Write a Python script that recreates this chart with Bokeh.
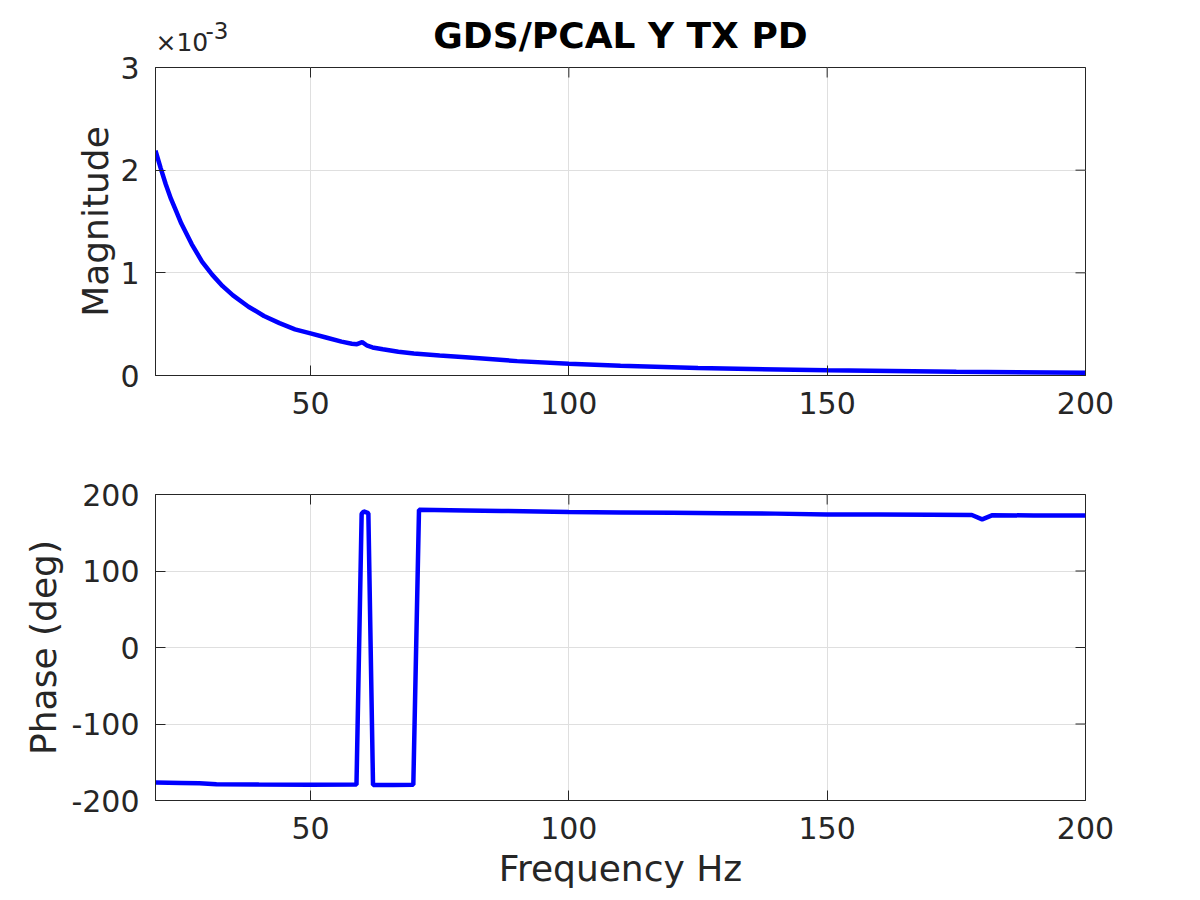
import math
from bokeh.plotting import figure
from bokeh.models import FixedTicker, CustomJSTickFormatter, Range1d, Title
from bokeh.layouts import column
from bokeh.embed import file_html
from bokeh.resources import INLINE

# ---- data ----
title_text = "GDS/PCAL Y TX PD"
x_label = "Frequency Hz"
mag_label = "Magnitude"
phase_label = "Phase (deg)"

mag_freq = [20, 21, 22, 23, 24, 25, 27, 29, 31, 33, 35, 38, 41, 44, 47, 50, 53, 56,
            58, 59, 60, 61, 62, 64, 67, 70, 75, 80, 90, 100, 110, 125, 150, 175, 200]
mag_val = [2.19e-3, 2.02e-3, 1.86e-3, 1.72e-3, 1.60e-3, 1.48e-3, 1.28e-3, 1.11e-3,
           0.98e-3, 0.87e-3, 0.78e-3, 0.67e-3, 0.58e-3, 0.51e-3, 0.45e-3, 0.41e-3,
           0.37e-3, 0.33e-3, 0.31e-3, 0.305e-3, 0.325e-3, 0.29e-3, 0.273e-3, 0.255e-3,
           0.232e-3, 0.215e-3, 0.195e-3, 0.177e-3, 0.14e-3, 0.114e-3, 0.094e-3,
           0.072e-3, 0.052e-3, 0.037e-3, 0.026e-3]

phase_freq = [20, 25, 28.5, 31.8, 40, 50, 58.9, 59.9, 60.3, 61.2, 62.1, 66, 69.9, 71,
              80, 87, 100, 110, 120, 130, 140, 150, 160, 170, 178, 180, 182, 190, 200]
phase_val = [-176.5, -177.0, -177.4, -178.7, -179.2, -179.5, -179.2, 174.8, 177.8, 175.6,
             -179.8, -179.6, -179.5, 180.0, 179.2, 178.5, 177.0, 176.5, 176.0, 175.5,
             175.0, 173.8, 173.8, 173.5, 173.2, 167.5, 173.0, 172.5, 172.5]

x_ticks = [50, 100, 150, 200]
mag_ticks = [0, 0.001, 0.002, 0.003]
phase_ticks = [-200, -100, 0, 100, 200]
x_lim = (20, 200)
mag_lim = (0, 0.003)
phase_lim = (-200, 200)
exp_base = "\u00d710"
exp_power = "-3"

FONT = "DejaVu Sans"
TXT = "#262626"
LINE = "#0000ff"


def make_fig(frame_h, top, bottom, ylim, yticks):
    p = figure(frame_width=930, frame_height=frame_h, x_range=Range1d(*x_lim),
               y_range=Range1d(*ylim), output_backend="svg", toolbar_location=None,
               min_border_left=155, min_border_right=95,
               min_border_top=top, min_border_bottom=bottom,
               background_fill_color="white", border_fill_color="white")
    p.outline_line_color = TXT
    p.outline_line_width = 1
    p.outline_line_alpha = 1
    for g in (p.xgrid, p.ygrid):
        g.grid_line_color = "#dfdfdf"
        g.grid_line_width = 1
    bx = p.below[0]
    ly = p.left[0]
    bx.ticker = FixedTicker(ticks=x_ticks)
    ly.ticker = FixedTicker(ticks=yticks)
    for ax in (bx, ly):
        ax.major_tick_in = 10
        ax.major_tick_out = 0
        ax.minor_tick_in = 0
        ax.minor_tick_out = 0
        ax.axis_line_color = TXT
        ax.major_tick_line_color = TXT
        ax.major_label_text_font = FONT
        ax.major_label_text_font_size = "30px"
        ax.major_label_text_color = TXT
        ax.major_label_standoff = 16
        ax.axis_label_text_font = FONT
        ax.axis_label_text_font_size = "36px"
        ax.axis_label_text_color = TXT
        ax.axis_label_text_font_style = "normal"
    # mirrored inward tick marks on the top and right edges (box on)
    p.scatter(x_ticks, [ylim[1]] * len(x_ticks), marker="dash", angle=math.pi / 2,
              size=20, line_color=TXT, line_width=1)
    p.scatter([x_lim[1]] * len(yticks), yticks, marker="dash",
              size=20, line_color=TXT, line_width=1)
    return p, bx, ly


p1, bx1, ly1 = make_fig(308, 67, 65, mag_lim, mag_ticks)
ly1.formatter = CustomJSTickFormatter(code="return (tick*1000).toFixed(0);")
ly1.axis_label = mag_label
ly1.axis_label_standoff = 1
p1.line(mag_freq, mag_val, line_color=LINE, line_width=4.5)

# titles above the magnitude plot: exponent "x10^-3" at the left, main title centred
p1.add_layout(Title(text=exp_base, align="left", offset=0, standoff=22,
                    text_font=FONT, text_font_size="25px", text_font_style="normal",
                    text_color=TXT), "above")
p1.add_layout(Title(text=title_text, align="center", standoff=-83,
                    text_font=FONT, text_font_size="36px", text_font_style="bold",
                    text_color="black"), "above")
p1.add_layout(Title(text=exp_power, align="left", offset=50, standoff=-48,
                    text_font=FONT, text_font_size="23px", text_font_style="normal",
                    text_color=TXT), "above")

p2, bx2, ly2 = make_fig(306, 54, 92, phase_lim, phase_ticks)
ly2.formatter = CustomJSTickFormatter(code="return tick.toFixed(0);")
ly2.axis_label = phase_label
ly2.axis_label_standoff = 4
bx2.axis_label = x_label
bx2.axis_label_standoff = 6
p2.line(phase_freq, phase_val, line_color=LINE, line_width=4.5)

layout = column(p1, p2, spacing=0)
open("out.html", "w").write(file_html(layout, INLINE))
